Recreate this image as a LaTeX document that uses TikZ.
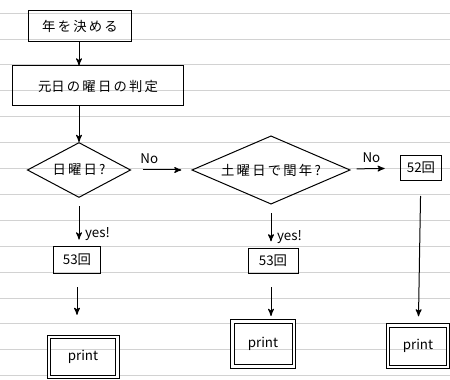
\documentclass[tikz,border=0pt]{standalone}
\usepackage{fontspec}
\setmainfont{Noto Sans CJK JP}
\usetikzlibrary{arrows,shapes.geometric}

\begin{document}
\begin{tikzpicture}[->,>=stealth',x=0.6pt,y=-0.6pt,semithick,
                    font=\fontsize{8}{9}\selectfont]
  \tikzstyle{box}=[draw,rectangle,inner sep=1pt]
  \tikzstyle{cond}=[draw,diamond,inner sep=0pt]
  \tikzstyle{output}=[draw,rectangle,double,double distance=1.6pt,inner sep=1pt]
  \tikzstyle{rule}=[-,draw=gray!35,thin]

  \useasboundingbox (0,0) rectangle (450,379);
  % notebook lines
  \foreach \y in {13,38.9,...,379}
    \draw[rule] (0,\y) -- (450,\y);

  \node[box,minimum width=62pt,minimum height=19pt]  (year)  at (80,26)   {年\,を\,決\,め\,る};
  \node[box,minimum width=103pt,minimum height=24pt] (first) at (98,86)   {元日\,の\,曜\,日\,の\,判\,定};
  \node[cond,aspect=1.9,minimum width=62pt,minimum height=33pt] (sun) at (79,170) {日\,曜\,日\,?};
  \node[cond,aspect=2.3,minimum width=95pt,minimum height=41pt] (sat) at (271,170) {土\,曜\,日\,で\,閏\,年\,?};
  \node[box,minimum width=25pt,minimum height=15pt]  (c52)   at (421,168) {52回};
  \node[box,minimum width=28pt,minimum height=16pt]  (c53a)  at (77,260)  {53回};
  \node[box,minimum width=30pt,minimum height=15pt]  (c53b)  at (273,261) {53回};
  \node[output,minimum width=41pt,minimum height=24pt] (pa)  at (83,357)  {print};
  \node[output,minimum width=37pt,minimum height=27pt] (pb)  at (263,344) {print};
  \node[output,minimum width=36pt,minimum height=25pt] (pc)  at (418,346) {print};

  \draw (year.south -| sun.north) -- (first.north -| sun.north);
  \draw (first.south -| sun.north) -- (sun.north);
  \draw[shorten <=7pt,shorten >=6pt] (sun) -- node[above,pos=0.3] {No} (sat);
  \draw[shorten <=5pt,shorten >=9pt] (sat) -- node[above,pos=0.45] {No} (c52);
  \draw[shorten <=5pt,shorten >=4pt] (sun.south) -- node[right,pos=0.75] {yes!} (sun.south |- c53a.north);
  \draw[shorten <=5pt,shorten >=4pt] (sat.south) -- node[right,pos=0.75] {yes!} (sat.south |- c53b.north);
  \draw[shorten <=8pt,shorten >=13pt] (c53a.south) -- (c53a.south |- pa.north);
  \draw[shorten <=8pt,shorten >=3pt] (c53b.south -| sat.south) -- (sat.south |- pb.north);
  \draw[shorten <=9pt,shorten >=5pt] (c52) -- (pc);
\end{tikzpicture}
\end{document}
